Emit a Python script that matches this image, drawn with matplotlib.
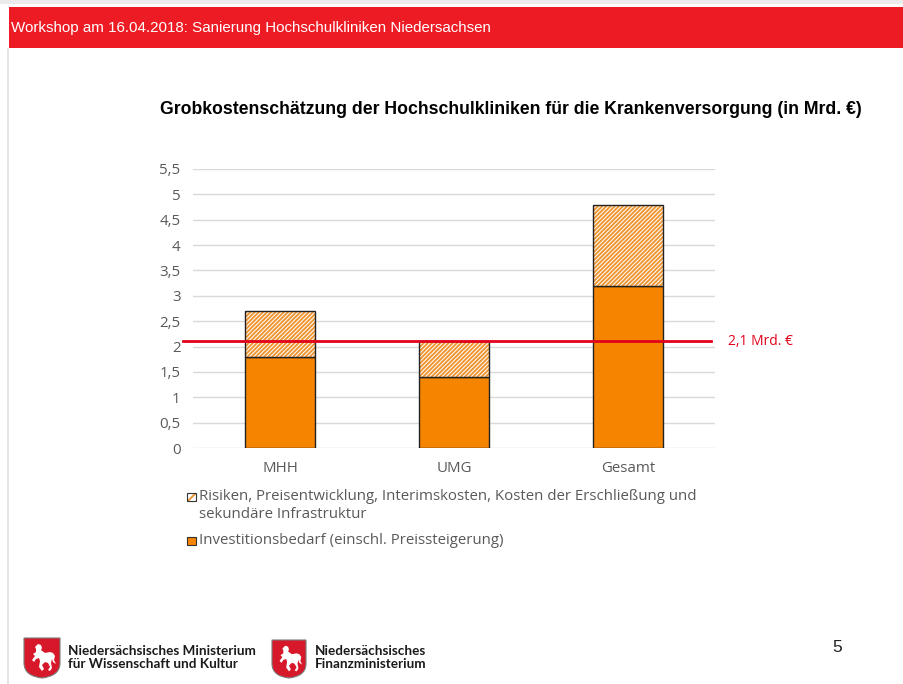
import matplotlib
matplotlib.use("Agg")
import matplotlib.pyplot as plt
import matplotlib.patches as mpatches
from matplotlib.path import Path
import numpy as np

# ---- data ----
categories = ["MHH", "UMG", "Gesamt"]
invest = [1.8, 1.4, 3.2]          # Investitionsbedarf
risiken = [0.9, 0.7, 1.6]         # Risiken etc.
limit_value = 2.1
limit_label = "2,1 Mrd. €"
yticks = [0, 0.5, 1, 1.5, 2, 2.5, 3, 3.5, 4, 4.5, 5, 5.5]
ytick_labels = ["0", "0,5", "1", "1,5", "2", "2,5", "3", "3,5", "4", "4,5", "5", "5,5"]
legend_labels = ["Risiken, Preisentwicklung, Interimskosten, Kosten der Erschließung und\nsekundäre Infrastruktur",
                 "Investitionsbedarf (einschl. Preissteigerung)"]
title = "Grobkostenschätzung der Hochschulkliniken für die Krankenversorgung (in Mrd. €)"
header = "Workshop am 16.04.2018: Sanierung Hochschulkliniken Niedersachsen"

ORANGE = "#F58400"
HATCH = "#EE9633"
RED = "#E2001A"
GREY_TXT = "#595959"
SANS = ["Open Sans", "DejaVu Sans"]
LOGO = ["Lato", "DejaVu Sans"]
ARIAL = ["Liberation Sans", "DejaVu Sans"]

plt.rcParams["hatch.linewidth"] = 1.4

W, H = 904, 684
fig = plt.figure(figsize=(W / 100, H / 100), dpi=100)
fig.patch.set_facecolor("white")

# ---- page overlay (pixel coordinates) ----
pg = fig.add_axes([0, 0, 1, 1], zorder=0)
pg.set_xlim(0, W)
pg.set_ylim(H, 0)
pg.axis("off")
pg.add_patch(mpatches.Rectangle((0, 0), W, 4, color="#ebebeb", lw=0))
pg.add_patch(mpatches.Rectangle((9, 7), W - 9, 41, color="#ED1C24", lw=0))
pg.add_patch(mpatches.Rectangle((7.5, 48), 2, H - 48, color="#e3e3e3", lw=0))
pg.text(11, 28, header, color="white", fontsize=10.9, family=ARIAL, va="center", ha="left")

# title
pg.text(511, 110, title, fontsize=12.7, fontweight="bold", family=ARIAL, va="center", ha="center", color="black")

# page number
pg.text(837, 648, "5", fontsize=12.5, family=ARIAL, va="center", ha="center", color="#222222")


def shield(x0, y0, w, h):
    verts = [(x0, y0), (x0 + w, y0), (x0 + w, y0 + h * 0.62),
             (x0 + w, y0 + h * 0.95), (x0 + w / 2, y0 + h),
             (x0, y0 + h * 0.95), (x0, y0 + h * 0.62), (x0, y0)]
    codes = [Path.MOVETO, Path.LINETO, Path.LINETO,
             Path.CURVE3, Path.CURVE3, Path.CURVE3, Path.CURVE3, Path.CLOSEPOLY]
    pg.add_patch(mpatches.PathPatch(Path(verts, codes), facecolor="#D7182A",
                                    edgecolor="#7a7a7a", lw=0.8))
    # rough white rearing horse
    sx, sy = w / 36.0, h / 40.0
    horse = [(11, 9), (14, 6), (17, 7), (18, 10), (17, 12), (21, 15), (26, 14),
             (29, 15), (31, 18), (30, 22), (32, 26), (29, 24), (28, 21), (27, 25),
             (28, 30), (26, 33), (24, 32), (26, 29), (24, 25), (21, 24), (18, 27),
             (20, 31), (18, 33), (15, 29), (16, 23), (15, 20), (12, 21), (10, 24),
             (8, 22), (11, 18), (9, 16), (12, 14), (12, 11)]
    pg.add_patch(mpatches.Polygon([(x0 + a * sx, y0 + b * sy) for a, b in horse],
                                  closed=True, facecolor="white", edgecolor="none"))


shield(24, 638, 36, 40)
shield(272, 640, 34, 38)
for tx, ty, s in [(68, 651, "Niedersächsisches Ministerium"),
                  (68, 664.5, "für Wissenschaft und Kultur"),
                  (315, 651, "Niedersächsisches"),
                  (315, 664.5, "Finanzministerium")]:
    pg.text(tx, ty, s, fontsize=9.7, fontweight="bold", family=LOGO,
            va="center", ha="left", color="#1a1a1a")

# legend (manual)
pg.add_patch(mpatches.Rectangle((187.5, 492.5), 8.5, 8.5, facecolor="white",
                                edgecolor=HATCH, hatch="///", lw=0))
pg.add_patch(mpatches.Rectangle((187.5, 492.5), 8.5, 8.5, fill=False, edgecolor="#333333", lw=0.8))
pg.add_patch(mpatches.Rectangle((187.5, 536.5), 8.5, 8.5, facecolor=ORANGE, edgecolor="#333333", lw=0.8))
l1, l2 = legend_labels[0].split("\n")
pg.text(199, 497, l1, fontsize=10.85, family=SANS, va="center", ha="left", color=GREY_TXT)
pg.text(199, 514, l2, fontsize=10.85, family=SANS, va="center", ha="left", color=GREY_TXT)
pg.text(199, 541, legend_labels[1], fontsize=10.85, family=SANS, va="center", ha="left", color=GREY_TXT)

# ---- chart axes ----
ax = fig.add_axes([193 / W, 1 - 448 / H, (715 - 193) / W, (448 - 169) / H], zorder=1)
ax.set_facecolor("none")
x = np.arange(len(categories))
bw = 0.4
ax.bar(x, invest, width=bw, color=ORANGE, edgecolor="#222222", linewidth=1.0, zorder=3)
ax.bar(x, risiken, width=bw, bottom=invest, color="white", edgecolor=HATCH,
       hatch="////////", linewidth=0, zorder=3)
ax.bar(x, risiken, width=bw, bottom=invest, fill=False, edgecolor="#222222",
       linewidth=1.0, zorder=4)

ax.set_xlim(-0.5, len(categories) - 0.5)
ax.set_ylim(0, 5.5)
ax.set_yticks(yticks)
ax.set_yticklabels(ytick_labels)
ax.set_xticks(x)
ax.set_xticklabels(categories)
for lbl in ax.get_xticklabels() + ax.get_yticklabels():
    lbl.set_family(SANS)
    lbl.set_fontsize(10.8)
    lbl.set_color(GREY_TXT)
ax.tick_params(axis="both", length=0)
ax.tick_params(axis="y", pad=9)
ax.tick_params(axis="x", pad=9)
for s in ax.spines.values():
    s.set_visible(False)
ax.yaxis.grid(True, color="#d9d9d9", linewidth=1.0, zorder=0)
ax.set_axisbelow(True)

ax.axhline(limit_value, xmin=-0.019, xmax=0.992, color=RED, linewidth=2.0, clip_on=False, zorder=5)
ax.text(1.025, limit_value, limit_label, transform=ax.get_yaxis_transform(),
        color=RED, fontsize=10, family=SANS, va="center", ha="left")

fig.savefig("out.png", dpi=100)
